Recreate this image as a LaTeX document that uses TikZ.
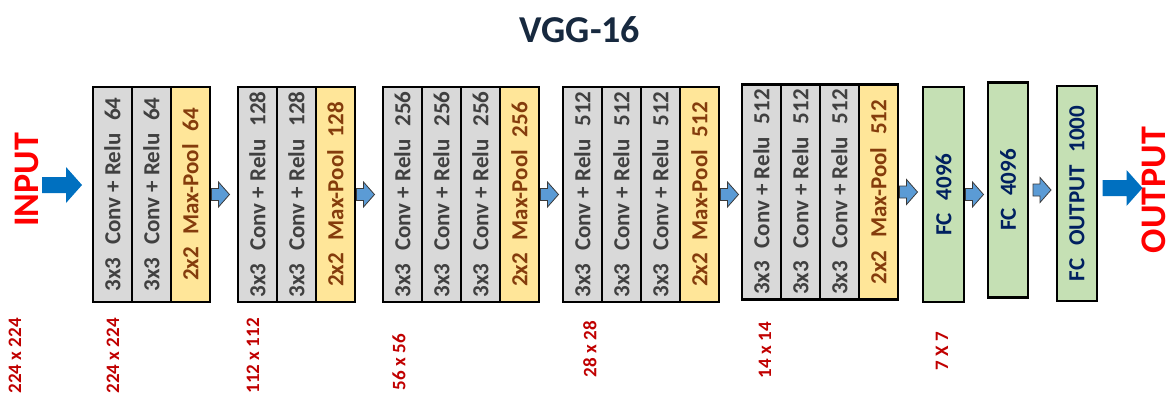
\documentclass[tikz,border=0pt]{standalone}
\usepackage{fontspec}
\setmainfont{Carlito}
\usepackage{graphicx}
\usetikzlibrary{positioning,fit,calc}

\definecolor{convgray}{HTML}{D9D9D9}
\definecolor{poolyellow}{HTML}{FFE699}
\definecolor{fcgreen}{HTML}{C5E0B4}
\definecolor{convtext}{HTML}{404040}
\definecolor{pooltext}{HTML}{843C0C}
\definecolor{fctext}{HTML}{002060}
\definecolor{sizered}{HTML}{C00000}
\definecolor{titlenavy}{HTML}{17293F}
\definecolor{arrowblue}{HTML}{0070C0}
\definecolor{stepblue}{HTML}{5B9BD5}
\definecolor{stepedge}{HTML}{3A3A3A}

\newcommand{\vtext}[1]{\rotatebox{90}{#1}}
\newcommand{\gap}{\hspace{0.55em}}

\begin{document}
\begin{tikzpicture}[
    x=1pt, y=-1pt,
    cell/.style={
        draw=black,
        line width=1.5pt,
        rectangle,
        minimum width=39pt,
        minimum height=215pt,
        inner sep=0pt,
        outer sep=0pt,
        font=\bfseries\fontsize{23}{25}\selectfont
    },
    conv/.style={cell, fill=convgray, text=convtext},
    pool/.style={cell, fill=poolyellow, text=pooltext},
    fc/.style={cell, fill=fcgreen, text=fctext, line width=2.5pt, minimum width=41pt},
    blockframe/.style={
        draw=black,
        line width=2.5pt,
        inner sep=0pt,
        outer sep=0pt
    },
    io/.style={
        rotate=90,
        text=red,
        inner sep=0pt,
        font=\bfseries\fontsize{36}{40}\selectfont
    },
    sizelabel/.style={
        rotate=90,
        anchor=east,
        inner sep=0pt,
        text=sizered,
        font=\bfseries\fontsize{19}{21}\selectfont
    },
    stepflow/.pic={
        \path[fill=stepblue, draw=stepedge, line width=0.8pt]
            (0,-6) -- (7,-6) -- (7,-12.5) -- (18,0) -- (7,12.5) -- (7,6) -- (0,6) -- cycle;
    },
    bigflow/.pic={
        \fill[arrowblue]
            (0,-8) -- (24,-8) -- (24,-18) -- (40,0) -- (24,18) -- (24,8) -- (0,8) -- cycle;
    }
]
\useasboundingbox (0,0) rectangle (1173,394);

% Title
\node[font=\bfseries\fontsize{38}{40}\selectfont, text=titlenavy] (title) at (580,30) {VGG-16};

% Input / output
\node[io] (input) at (27,180) {INPUT};
\node[io] (output) at (1154,190) {OUTPUT};

% Block 1
\node[conv] (c1a) at (112.5,194.5) {\vtext{3x3\gap Conv + Relu\gap 64}};
\node[conv, right=0pt of c1a] (c1b) {\vtext{3x3\gap Conv + Relu\gap 64}};
\node[pool, right=0pt of c1b] (c1c) {\vtext{2x2\gap Max-Pool\gap 64}};
\node[blockframe, fit=(c1a)(c1c)] (b1) {};

% Block 2
\node[conv] (c2a) at (257.5,194.5) {\vtext{3x3\gap Conv + Relu\gap 128}};
\node[conv, right=0pt of c2a] (c2b) {\vtext{3x3\gap Conv + Relu\gap 128}};
\node[pool, right=0pt of c2b] (c2c) {\vtext{2x2\gap Max-Pool\gap 128}};
\node[blockframe, fit=(c2a)(c2c)] (b2) {};

% Block 3
\node[conv] (c3a) at (402.5,194.5) {\vtext{3x3\gap Conv + Relu\gap 256}};
\node[conv, right=0pt of c3a] (c3b) {\vtext{3x3\gap Conv + Relu\gap 256}};
\node[conv, right=0pt of c3b] (c3c) {\vtext{3x3\gap Conv + Relu\gap 256}};
\node[pool, right=0pt of c3c] (c3d) {\vtext{2x2\gap Max-Pool\gap 256}};
\node[blockframe, fit=(c3a)(c3d)] (b3) {};

% Block 4
\node[conv] (c4a) at (582.5,194.5) {\vtext{3x3\gap Conv + Relu\gap 512}};
\node[conv, right=0pt of c4a] (c4b) {\vtext{3x3\gap Conv + Relu\gap 512}};
\node[conv, right=0pt of c4b] (c4c) {\vtext{3x3\gap Conv + Relu\gap 512}};
\node[pool, right=0pt of c4c] (c4d) {\vtext{2x2\gap Max-Pool\gap 512}};
\node[blockframe, fit=(c4a)(c4d)] (b4) {};

% Block 5
\node[conv] (c5a) at (761.5,192) {\vtext{3x3\gap Conv + Relu\gap 512}};
\node[conv, right=0pt of c5a] (c5b) {\vtext{3x3\gap Conv + Relu\gap 512}};
\node[conv, right=0pt of c5b] (c5c) {\vtext{3x3\gap Conv + Relu\gap 512}};
\node[pool, right=0pt of c5c] (c5d) {\vtext{2x2\gap Max-Pool\gap 512}};
\node[blockframe, fit=(c5a)(c5d)] (b5) {};

% Fully connected
\node[fc] (fc1) at (943.5,194.5) {\vtext{FC\gap 4096}};
\node[fc, minimum width=40pt] (fc2) at (1008,190) {\vtext{FC\gap 4096}};
\node[fc, minimum width=40pt] (fc3) at (1077,193.5) {\vtext{FC\gap OUTPUT\gap 1000}};

% Arrows
\pic at ([xshift=-51pt, yshift=9.5pt]b1.west) {bigflow};
\pic at ([xshift=1.5pt]b1.east) {stepflow};
\pic at ([xshift=1.5pt]b2.east) {stepflow};
\pic at ([xshift=1.5pt]b3.east) {stepflow};
\pic at ([xshift=1.5pt]b4.east) {stepflow};
\pic at ([xshift=1.5pt]b5.east) {stepflow};
\pic at ([xshift=1.5pt]fc1.east) {stepflow};
\pic at ([xshift=5pt]fc2.east) {stepflow};
\pic at ([xshift=5.5pt, yshift=5.5pt]fc3.east) {bigflow};

% Feature map sizes
\node[sizelabel] (s0) at (15,318) {224 x 224};
\node[sizelabel] (s1) at (113,318) {224 x 224};
\node[sizelabel] (s2) at (253,318) {112 x 112};
\node[sizelabel] (s3) at (399,334) {56 x 56};
\node[sizelabel] (s4) at (590,321) {28 x 28};
\node[sizelabel] (s5) at (765,322) {14 x 14};
\node[sizelabel] (s6) at (942,332) {7 X 7};

\end{tikzpicture}
\end{document}
